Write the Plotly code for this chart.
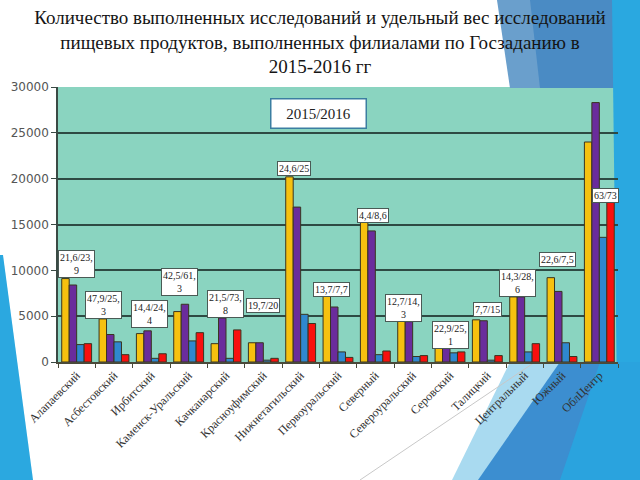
import plotly.graph_objects as go

categories = ["Алапаевский", "Асбестовский", "Ирбитский", "Каменск-Уральский",
              "Качканарский", "Красноуфимский", "Нижнетагильский", "Первоуральский",
              "Северный", "Североуральский", "Серовский", "Талицкий",
              "Центральный", "Южный", "ОблЦентр"]

s_yellow = [9100, 4700, 3100, 5500, 2000, 2100, 20200, 7600, 15800, 4500, 1500, 4600, 7100, 9200, 24000]
s_purple = [8400, 3000, 3400, 6300, 4800, 2100, 16900, 6000, 14300, 4400, 1700, 4500, 7100, 7700, 28300]
s_blue = [1900, 2200, 400, 2300, 400, 200, 5200, 1100, 800, 600, 1000, 200, 1100, 2100, 13600]
s_red = [2000, 800, 900, 3200, 3500, 400, 4200, 500, 1200, 700, 1100, 700, 2000, 600, 17700]

box_labels = ["21,6/23,<br>9", "47,9/25,<br>3", "14,4/24,<br>4", "42,5/61,<br>3",
              "21,5/73,<br>8", "19,7/20", "24,6/25", "13,7/7,7", "4,4/8,6",
              "12,7/14,<br>3", "22,9/25,<br>1", "7,7/15", "14,3/28,<br>6",
              "22,6/7,5", "63/73"]
# label box centres in pixels (x, y) of the 640x480 page
label_px = [(76, 264), (103, 305), (149, 314), (179, 282), (225, 304), (263, 305),
            (294, 168), (331, 289), (373, 215), (403, 308), (450, 335), (487, 309),
            (517, 283), (557, 259), (605, 195)]

y_ticks = [0, 5000, 10000, 15000, 20000, 25000, 30000]

W, H = 640, 480
ML, MR, MT, MB = 58, 22, 87, 118

fig = go.Figure()
series = [("ряд 1", s_yellow, "#F6C10F"), ("ряд 2", s_purple, "#6A2C9C"),
          ("ряд 3", s_blue, "#2F88CF"), ("ряд 4", s_red, "#F8100E")]
for name, vals, col in series:
    fig.add_trace(go.Bar(x=categories, y=vals, name=name, marker_color=col,
                         marker_line=dict(color="#3a3520", width=1)))


def to_paper(px, py):
    return ((px - ML) / (W - ML - MR), (H - MB - py) / (H - MT - MB))


fixed = []
for pts, col in [
    ([(497, 0), (640, 0), (640, 88), (510, 88)], "#6A9FCC"),
    ([(530, 0), (640, 0), (640, 88), (540, 88)], "#4A8BC4"),
    ([(612, 0), (640, 0), (640, 480), (618, 480)], "#2AA8E0"),
    ([(510, 362), (640, 362), (640, 480), (452, 480)], "#A9DAF0"),
    ([(560, 362), (640, 362), (640, 480), (478, 480)], "#3C8ED0"),
    ([(600, 362), (640, 362), (640, 480), (560, 480)], "#2AA3DE"),
    ([(0, 255), (3, 255), (33, 480), (0, 480)], "#2BA8E0"),
]:
    path = "M " + " L ".join("{:.4f},{:.4f}".format(*to_paper(x, y)) for x, y in pts) + " Z"
    fixed.append(dict(type="path", xref="paper", yref="paper", path=path, fillcolor=col,
                      line=dict(width=0), layer="below"))
lx0, ly0 = to_paper(535, 362)
lx1, ly1 = to_paper(360, 480)
fixed.append(dict(type="line", xref="paper", yref="paper", x0=lx0, y0=ly0, x1=lx1, y1=ly1,
                  line=dict(color="#C8C8C8", width=1), layer="below"))

annotations = []
for txt, (px, py) in zip(box_labels, label_px):
    ax, ay = to_paper(px, py)
    annotations.append(dict(text=txt, x=ax, y=ay, xref="paper", yref="paper",
                            showarrow=False, xanchor="center", yanchor="middle",
                            font=dict(family="Liberation Serif", size=10, color="#222"),
                            bgcolor="white", bordercolor="#4a5a55", borderwidth=1,
                            borderpad=1, align="center"))
bx, by = to_paper(318, 113)
annotations.append(dict(text="2015/2016", x=bx, y=by, xref="paper", yref="paper",
                        showarrow=False, xanchor="center", yanchor="middle",
                        width=92, height=26,
                        font=dict(family="Liberation Serif", size=15, color="#222"),
                        bgcolor="white", bordercolor="#3B7EA1", borderwidth=1.5,
                        borderpad=1))

fig.update_layout(
    width=W, height=H,
    margin=dict(l=ML, r=MR, t=MT, b=MB),
    paper_bgcolor="white",
    plot_bgcolor="#8AD4C0",
    barmode="group", bargap=0.2, bargroupgap=0.0,
    showlegend=False,
    title=dict(text="Количество выполненных исследований и удельный вес исследований<br>"
                    "пищевых продуктов, выполненных филиалами по Госзаданию в<br>2015-2016 гг",
               x=0.5, xanchor="center", xref="container",
               y=1 - 24 / H, yanchor="middle", yref="container",
               font=dict(family="Liberation Serif", size=19, color="#151515")),
    shapes=fixed,
    annotations=annotations,
    xaxis=dict(tickangle=-45, tickfont=dict(family="Liberation Serif", size=12, color="#333"),
               showline=True, linecolor="#4a4a3a", linewidth=1.5,
               ticks="outside", tickson="boundaries", ticklen=4, tickcolor="#4a4a3a",
               showgrid=False),
    yaxis=dict(range=[0, 30000], tickvals=y_ticks, ticktext=[str(v) for v in y_ticks],
               tickfont=dict(family="DejaVu Sans", size=12, color="#555"),
               showline=True, linecolor="#3a4a44", linewidth=1.5,
               ticks="outside", ticklen=5, tickcolor="#3a4a44",
               showgrid=True, gridcolor="#2E4A43", gridwidth=1.5, zeroline=False),
)

fig.write_html("out.html")
